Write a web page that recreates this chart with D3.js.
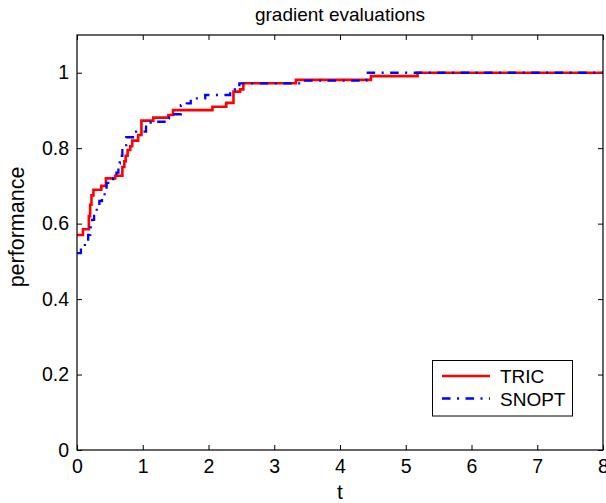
<!DOCTYPE html>
<html>
<head>
<meta charset="utf-8">
<script src="https://cdn.jsdelivr.net/npm/d3@7"></script>
<style>
  body { margin: 0; background: #fff; }
  svg { display: block; font-family: "Liberation Sans", Arial, Helvetica, sans-serif; }
</style>
</head>
<body>
<svg id="chart" width="606" height="503"></svg>
<script>
// performance profile, gradient evaluations
const tricT = [0, 0.09, 0.18, 0.20, 0.22, 0.25, 0.37, 0.44, 0.58, 0.69, 0.72, 0.74, 0.77, 0.81, 0.84, 0.93, 0.98, 1.16, 1.39, 1.46, 2.06, 2.27, 2.38, 2.48, 2.53, 3.33, 4.47, 5.18, 8];
const tricV = [0.570, 0.585, 0.62, 0.65, 0.675, 0.69, 0.70, 0.72, 0.727, 0.75, 0.765, 0.78, 0.795, 0.805, 0.82, 0.835, 0.873, 0.881, 0.888, 0.901, 0.91, 0.92, 0.95, 0.956, 0.972, 0.981, 0.991, 1.0, 1.0];

const snoptT = [0, 0.06, 0.12, 0.17, 0.20, 0.23, 0.26, 0.30, 0.34, 0.38, 0.42, 0.45, 0.55, 0.60, 0.63, 0.65, 0.69, 0.73, 0.75, 0.90, 1.05, 1.12, 1.35, 1.40, 1.58, 1.67, 1.73, 1.95, 2.33, 2.40, 2.47, 3.41, 4.40, 8];
const snoptV = [0.522, 0.535, 0.55, 0.57, 0.59, 0.61, 0.63, 0.645, 0.66, 0.675, 0.69, 0.708, 0.72, 0.735, 0.76, 0.78, 0.795, 0.808, 0.829, 0.844, 0.861, 0.87, 0.879, 0.89, 0.914, 0.919, 0.932, 0.941, 0.954, 0.967, 0.972, 0.979, 1.0, 1.0];

const xTicks = [0, 1, 2, 3, 4, 5, 6, 7, 8];
const yTicks = [0, 0.2, 0.4, 0.6, 0.8, 1];
const seriesNames = ["TRIC", "SNOPT"];

const svg = d3.select("#chart");
const plotL = 77, plotR = 603, plotT = 35, plotB = 450;

const x = d3.scaleLinear().domain([0, 8]).range([plotL, plotR]);
const y = d3.scaleLinear().domain([0, 1.1]).range([plotB, plotT]);

const tickFont = "19.5px";

// axes: ticks pointing inward, on all four sides
svg.append("g")
  .attr("transform", `translate(0,${plotB})`)
  .call(d3.axisBottom(x).tickValues(xTicks).tickSizeInner(-5).tickSizeOuter(0).tickPadding(9).tickFormat(d3.format("d")))
  .call(g => g.select(".domain").remove())
  .call(g => g.selectAll("text").style("font-size", tickFont).attr("fill", "#000"));

svg.append("g")
  .attr("transform", `translate(0,${plotT})`)
  .call(d3.axisTop(x).tickValues(xTicks).tickSizeInner(-5).tickSizeOuter(0).tickFormat(""))
  .call(g => g.select(".domain").remove());

svg.append("g")
  .attr("transform", `translate(${plotL},0)`)
  .call(d3.axisLeft(y).tickValues(yTicks).tickSizeInner(-5).tickSizeOuter(0).tickPadding(8).tickFormat(d => d === 0 || d === 1 ? d3.format("d")(d) : d3.format(".1f")(d)))
  .call(g => g.select(".domain").remove())
  .call(g => g.selectAll("text").style("font-size", tickFont).attr("fill", "#000"));

svg.append("g")
  .attr("transform", `translate(${plotR},0)`)
  .call(d3.axisRight(y).tickValues(yTicks).tickSizeInner(-5).tickSizeOuter(0).tickFormat(""))
  .call(g => g.select(".domain").remove());

svg.selectAll(".tick line").attr("stroke", "#000");

// curves
const line = d3.line().curve(d3.curveStepAfter).x(d => x(d[0])).y(d => y(d[1]));
const tric = d3.zip(tricT, tricV);
const snopt = d3.zip(snoptT, snoptV);

svg.append("path")
  .datum(tric)
  .attr("d", line)
  .attr("fill", "none")
  .attr("stroke", "#ff0000")
  .attr("stroke-width", 2.6);

svg.append("path")
  .datum(snopt)
  .attr("d", line)
  .attr("fill", "none")
  .attr("stroke", "#0000ff")
  .attr("stroke-width", 2.3)
  .attr("stroke-dasharray", "8.5,6.5,2,6.5");

// box
svg.append("rect")
  .attr("x", plotL).attr("y", plotT)
  .attr("width", plotR - plotL).attr("height", plotB - plotT)
  .attr("fill", "none").attr("stroke", "#000").attr("stroke-width", 1.2);

// labels
svg.append("text")
  .attr("x", (plotL + plotR) / 2).attr("y", 21)
  .attr("text-anchor", "middle")
  .style("font-size", "19px")
  .text("gradient evaluations");

svg.append("text")
  .attr("x", (plotL + plotR) / 2).attr("y", 499)
  .attr("text-anchor", "middle")
  .style("font-size", "21px")
  .text("t");

svg.append("text")
  .attr("transform", "translate(24,227) rotate(-90)")
  .attr("text-anchor", "middle")
  .style("font-size", "21.5px")
  .text("performance");

// legend
const lg = svg.append("g");
lg.append("rect")
  .attr("x", 432.5).attr("y", 360.5)
  .attr("width", 140).attr("height", 55.5)
  .attr("fill", "#fff").attr("stroke", "#000").attr("stroke-width", 1);

const legendStyles = [
  { color: "#ff0000", width: 2.6, dash: null },
  { color: "#0000ff", width: 2.3, dash: "8.5,6.5,2,6.5" }
];
seriesNames.forEach((name, i) => {
  const ly = 376 + i * 22.5;
  lg.append("line")
    .attr("x1", 442).attr("x2", 490)
    .attr("y1", ly).attr("y2", ly)
    .attr("stroke", legendStyles[i].color)
    .attr("stroke-width", legendStyles[i].width)
    .attr("stroke-dasharray", legendStyles[i].dash);
  lg.append("text")
    .attr("x", 500).attr("y", ly + 7)
    .style("font-size", "19px")
    .text(name);
});
</script>
</body>
</html>
